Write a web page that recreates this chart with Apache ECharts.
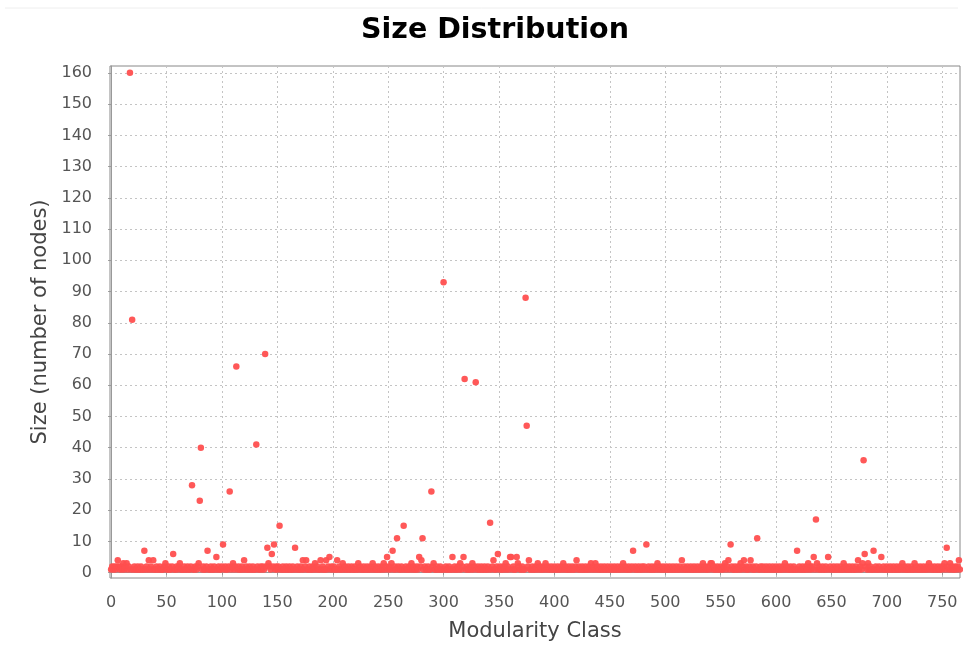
<!DOCTYPE html>
<html>
<head>
<meta charset="utf-8">
<script src="https://cdn.jsdelivr.net/npm/echarts@6.0.0/dist/echarts.min.js"></script>
<style>
  html, body { margin: 0; padding: 0; background: #fff; }
  #chart { width: 963px; height: 655px; }
</style>
</head>
<body>
<div id="chart"></div>
<script>
// size of each modularity class (index = class id)
var sizes = [
  1,2,1,2,1,2,4,2,1,2, 1,3,1,2,3,1,2,160,1,81, 1,2,1,1,2,1,1,2,1,1, 7,1,2,1,4,1,2,1,4,1, 1,2,1,1,2,1,1,1,2,3,
  1,1,2,1,1,2,6,1,1,2, 1,2,3,1,1,1,2,1,1,2, 1,1,2,28,1,1,2,1,2,3, 23,40,1,2,1,1,2,7,1,1, 2,1,1,2,1,5,1,2,1,1,
  2,9,1,2,1,1,2,26,1,2, 3,1,2,66,1,2,1,1,2,1, 4,1,2,1,1,2,1,1,2,1, 1,41,2,1,1,2,1,2,1,70, 2,8,3,2,1,6,2,9,1,2,
  1,2,15,1,1,2,1,1,2,1, 1,2,1,1,2,1,8,1,2,1, 1,2,1,4,1,2,4,1,1,2, 1,1,2,1,3,1,2,1,1,4, 1,2,1,1,4,1,2,5,1,2,
  1,2,1,1,4,1,2,1,1,3, 1,2,1,1,2,1,1,2,1,1, 2,1,1,3,1,2,1,1,2,1, 1,2,1,1,2,1,3,1,2,1, 1,2,1,1,2,1,3,1,2,5,
  1,2,1,3,7,1,2,1,11,2, 1,1,2,1,15,1,2,1,1,2, 1,3,1,2,1,1,2,1,5,2, 4,11,1,2,1,1,2,1,1,26, 2,3,1,1,2,1,1,2,1,1,
  93,1,2,1,1,2,1,1,5,1, 2,1,1,2,1,3,1,2,5,62, 1,2,1,1,2,1,3,1,2,61, 1,2,1,1,2,1,1,2,1,1, 2,1,16,1,2,4,1,1,2,6,
  1,2,1,1,2,1,3,1,2,1, 5,5,1,2,1,1,5,3,2,1, 1,2,1,1,88,47,2,4,1,1, 2,1,1,2,1,3,1,2,1,1, 2,1,3,1,2,1,1,2,1,1,
  2,1,1,2,1,1,2,1,3,1, 2,1,1,2,1,1,2,1,1,2, 4,1,2,1,1,2,1,1,2,1, 1,2,1,3,1,2,1,3,1,2, 1,1,2,1,1,2,1,1,2,1,
  1,2,1,1,2,1,1,2,1,1, 2,1,3,1,2,1,1,2,1,1, 2,7,1,2,1,1,2,1,1,2, 1,2,1,9,1,2,1,1,2,1, 1,2,1,3,1,2,1,1,2,1,
  1,2,1,1,2,1,1,2,1,1, 2,1,1,2,1,4,1,2,1,1, 2,1,1,2,1,1,2,1,1,2, 1,1,2,1,3,1,2,1,1,2, 1,3,3,1,2,1,1,2,1,1,
  2,1,1,2,3,1,2,4,1,9, 2,1,1,2,1,1,2,1,3,1, 2,4,1,2,1,1,2,4,1,2, 1,1,2,11,1,1,2,1,2,1, 1,2,1,1,2,1,1,2,1,1,
  2,1,1,2,1,1,2,1,3,1, 2,1,1,2,1,1,2,1,1,7, 1,2,1,1,2,1,1,2,1,3, 1,2,1,2,5,1,17,3,1,2, 1,1,2,1,1,2,1,5,1,2,
  1,1,2,1,1,2,1,1,2,1, 1,3,1,2,1,1,2,1,1,2, 1,1,2,1,4,1,2,1,3,36, 6,2,1,3,1,2,1,1,7,1, 2,1,1,2,1,5,1,2,1,1,
  2,1,1,2,1,1,2,1,1,2, 1,1,2,1,3,1,2,1,1,2, 1,1,2,1,1,3,1,2,1,1, 2,1,1,2,1,1,2,1,3,1, 2,1,1,2,1,1,2,1,1,2,
  1,2,3,1,8,2,1,3,1,2, 1,1,2,1,2,4,1
];
var xTicks = [0, 50, 100, 150, 200, 250, 300, 350, 400, 450, 500, 550, 600, 650, 700, 750];
var yTicks = [0, 10, 20, 30, 40, 50, 60, 70, 80, 90, 100, 110, 120, 130, 140, 150, 160];

var points = sizes.map(function (s, i) { return [i, s]; });

var chart = echarts.init(document.getElementById('chart'));
var gridLine = { show: true, lineStyle: { color: '#c4c4c4', type: [2, 3], width: 1 } };

chart.setOption({
  backgroundColor: '#ffffff',
  animation: false,
  title: {
    text: 'Size Distribution',
    left: 356,
    top: 11,
    textStyle: { fontFamily: 'DejaVu Sans', fontWeight: 'bold', fontSize: 28.5, color: '#000' }
  },
  graphic: [{
    type: 'line',
    shape: { x1: 5, y1: 8, x2: 958, y2: 8 },
    style: { stroke: '#eeeeee', lineWidth: 1 }
  }],
  grid: {
    left: 110, right: 3, top: 66, bottom: 77,
    show: true, borderColor: '#888', borderWidth: 1, backgroundColor: '#fff'
  },
  xAxis: {
    type: 'value',
    min: -1, max: 766,
    offset: 7,
    name: 'Modularity Class',
    nameLocation: 'middle',
    nameGap: 36,
    nameTextStyle: { fontFamily: 'DejaVu Sans', fontSize: 21, color: '#444' },
    axisLine: { show: true, lineStyle: { color: '#999' } },
    axisTick: { show: true, length: 3, customValues: xTicks, lineStyle: { color: '#999' } },
    axisLabel: { customValues: xTicks, fontFamily: 'DejaVu Sans', fontSize: 16, color: '#555', margin: 10 },
    splitLine: gridLine
  },
  yAxis: {
    type: 'value',
    min: -1.7, max: 162.2,
    offset: 7,
    name: 'Size (number of nodes)',
    nameLocation: 'middle',
    nameGap: 52,
    nameTextStyle: { fontFamily: 'DejaVu Sans', fontSize: 21, color: '#444' },
    axisLine: { show: true, lineStyle: { color: '#999' } },
    axisTick: { show: true, length: 3, customValues: yTicks, lineStyle: { color: '#999' } },
    axisLabel: { customValues: yTicks, fontFamily: 'DejaVu Sans', fontSize: 16, color: '#555', margin: 11 },
    splitLine: gridLine
  },
  series: [{
    type: 'scatter',
    data: points,
    symbol: 'circle',
    symbolSize: 6.5,
    clip: false,
    itemStyle: { color: '#ff4f4f', opacity: 0.95 }
  }]
});
</script>
</body>
</html>
